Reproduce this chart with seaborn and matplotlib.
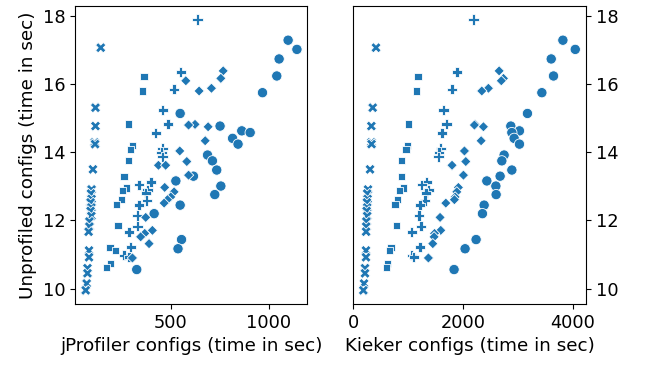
import matplotlib
matplotlib.use("Agg")
import matplotlib.pyplot as plt
import seaborn as sns
import pandas as pd

plt.rcParams['font.size'] = 12.8
plt.rcParams['axes.labelsize'] = 13.2

# config groups (one marker style each)
groups = ['A', 'B', 'C', 'D', 'E']

# group A (circles)
a_unprof = [17.29, 17.02, 16.74, 16.24, 15.75, 15.14, 14.77, 14.63, 14.58, 14.41, 14.24, 13.92,
            13.75, 13.48, 13.30, 13.16, 13.01, 12.76, 12.45, 12.20, 11.44, 11.17, 10.56]
a_jprof = [1100, 1145, 1054, 1042, 969, 548, 752, 863, 906, 816, 844, 688,
           713, 735, 616, 526, 756, 725, 548, 415, 555, 537, 326]
a_kieker = [3824, 4050, 3611, 3653, 3440, 3177, 2873, 3031, 2892, 2934, 3031, 2751,
            2709, 2892, 2678, 2435, 2600, 2605, 2386, 2355, 2239, 2038, 1837]

# group B (x)
b_unprof = [17.07, 15.31, 14.77, 14.29, 14.24, 13.50, 12.91, 12.79, 12.63, 12.53, 12.38,
            12.28, 12.13, 11.97, 11.82, 11.67, 11.12, 10.92, 10.60, 10.45, 10.15, 9.95]
b_jprof = [142, 115, 115, 111, 113, 102, 95, 92, 95, 90, 94,
           90, 94, 84, 84, 80, 82, 82, 74, 74, 70, 65]
b_kieker = [411, 351, 326, 326, 330, 302, 265, 250, 258, 245, 250,
            240, 250, 235, 232, 230, 228, 228, 210, 210, 192, 180]

# group C (squares)
c_unprof = [16.22, 15.80, 14.83, 14.21, 14.08, 13.77, 13.28, 12.95, 12.87, 12.62, 12.47,
            11.85, 11.20, 11.12, 10.73, 10.61]
c_jprof = [363, 357, 285, 304, 295, 283, 261, 275, 253, 248, 224,
           230, 189, 218, 193, 172]
c_kieker = [1179, 1155, 1000, 984, 958, 874, 881, 911, 837, 800, 759,
            782, 686, 655, 625, 607]

# group D (plus)
d_unprof = [17.90, 16.36, 15.85, 15.24, 14.83, 14.57, 14.11, 14.00, 13.87, 13.13, 13.05,
            12.89, 12.81, 12.59, 12.45, 12.15, 11.83, 11.66, 11.22, 10.98, 10.93]
d_jprof = [637, 551, 517, 459, 486, 423, 457, 452, 457, 398, 338,
           381, 372, 377, 338, 330, 330, 287, 295, 261, 287]
d_kieker = [2190, 1887, 1800, 1642, 1700, 1620, 1594, 1560, 1550, 1338, 1247,
            1368, 1325, 1307, 1216, 1197, 1234, 1064, 1216, 1064, 1100]

# group E (diamonds)
e_unprof = [16.39, 16.17, 16.10, 15.88, 15.80, 14.82, 14.80, 14.75, 14.34, 14.04, 13.73,
            13.62, 13.62, 13.33, 12.97, 12.84, 12.69, 12.61, 12.51, 12.09, 11.71, 11.62,
            11.52, 11.32, 10.90]
e_jprof = [768, 756, 577, 708, 645, 624, 591, 691, 676, 546, 582,
           437, 474, 591, 469, 517, 500, 483, 466, 372, 406, 367,
           346, 389, 304]
e_kieker = [2660, 2739, 2700, 2464, 2343, 2220, 2208, 2373, 2331, 2026, 2051,
            1795, 1800, 2008, 1916, 1887, 1856, 1843, 1686, 1581, 1594, 1480,
            1472, 1448, 1368]

unprof = [a_unprof, b_unprof, c_unprof, d_unprof, e_unprof]
jprof = [a_jprof, b_jprof, c_jprof, d_jprof, e_jprof]
kieker = [a_kieker, b_kieker, c_kieker, d_kieker, e_kieker]

rows = []
for g, u, j, k in zip(groups, unprof, jprof, kieker):
    for ui, ji, ki in zip(u, j, k):
        rows.append({'group': g, 'unprofiled': ui, 'jprofiler': ji, 'kieker': ki})
df = pd.DataFrame(rows)

fig, (ax1, ax2) = plt.subplots(1, 2, sharey=True, figsize=(6.59, 3.67), dpi=100)
fig.subplots_adjust(left=0.114, right=0.889, top=0.984, bottom=0.172, wspace=0.198)

sns.scatterplot(data=df, x='jprofiler', y='unprofiled', style='group', s=55, ax=ax1, legend=False)
ax1.set_xlabel('jProfiler configs (time in sec)')
ax1.set_ylabel('Unprofiled configs (time in sec)')

sns.scatterplot(data=df, x='kieker', y='unprofiled', style='group', s=55, ax=ax2, legend=False)
ax2.set_xlim(left=0)
ax2.set_xlabel('Kieker configs (time in sec)')
ax2.yaxis.tick_right()
ax2.yaxis.set_label_position('right')
ax2.set_ylabel('Unprofiled configs (time in sec)', rotation=270, labelpad=17)
ax2.tick_params(axis='y', labelright=True)

fig.savefig('out.png', dpi=100)
